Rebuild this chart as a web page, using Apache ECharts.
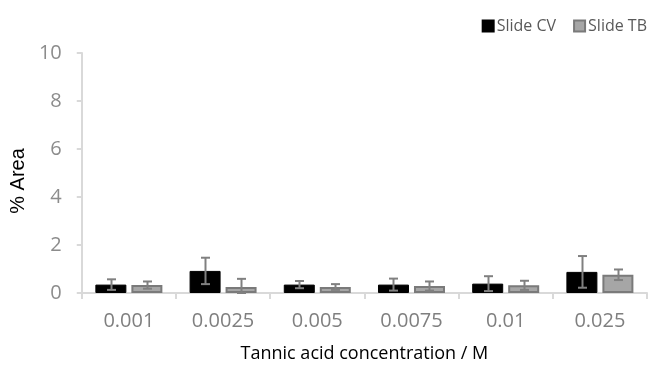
<!DOCTYPE html>
<html>
<head>
<meta charset="utf-8">
<script src="https://cdn.jsdelivr.net/npm/echarts@6/dist/echarts.min.js"></script>
<style>
  html, body { margin: 0; padding: 0; background: #fff; }
  #chart { width: 660px; height: 368px; }
</style>
</head>
<body>
<div id="chart"></div>
<script>
// Tannic acid concentrations (M)
var categories = ['0.001', '0.0025', '0.005', '0.0075', '0.01', '0.025'];
// Mean % area per slide stain
var slideCV = [0.35, 0.92, 0.35, 0.35, 0.39, 0.88];
var slideTB = [0.33, 0.25, 0.25, 0.29, 0.32, 0.76];
// Standard deviations
var slideCVErr = [0.22, 0.55, 0.15, 0.25, 0.31, 0.66];
var slideTBErr = [0.15, 0.34, 0.12, 0.19, 0.19, 0.22];
var yTicks = [0, 2, 4, 6, 8, 10];

var FONT = '"Open Sans", "Noto Sans", sans-serif';
var BAR_W = 31, BAR_GAP = 5;

function errorData(vals, errs) {
  return vals.map(function (v, i) { return [i, Math.max(0, v - errs[i]), v + errs[i]]; });
}

function errorSeries(name, vals, errs, offset) {
  return {
    type: 'custom',
    name: name + ' error',
    silent: true,
    z: 5,
    data: errorData(vals, errs),
    renderItem: function (params, api) {
      var lo = api.coord([api.value(0), api.value(1)]);
      var hi = api.coord([api.value(0), api.value(2)]);
      var x = Math.round(lo[0] + offset) + 0.5;
      var hw = 4.5;
      var style = { stroke: '#808080', lineWidth: 2, fill: null };
      return {
        type: 'group',
        children: [
          { type: 'line', shape: { x1: x, y1: hi[1], x2: x, y2: lo[1] }, style: style },
          { type: 'line', shape: { x1: x - hw, y1: hi[1], x2: x + hw, y2: hi[1] }, style: style },
          { type: 'line', shape: { x1: x - hw, y1: lo[1], x2: x + hw, y2: lo[1] }, style: style }
        ]
      };
    }
  };
}

var chart = echarts.init(document.getElementById('chart'), null, { renderer: 'canvas' });
var offset = (BAR_W + BAR_GAP) / 2;

chart.setOption({
  animation: false,
  textStyle: { fontFamily: FONT },
  legend: {
    data: ['Slide CV', 'Slide TB'],
    right: 8,
    top: 13,
    itemWidth: 11,
    itemHeight: 11,
    itemGap: 17,
    icon: 'rect',
    textStyle: { fontFamily: FONT, fontSize: 16, color: '#595959', padding: [0, 0, 0, -2] }
  },
  grid: { left: 81, right: 13, top: 53, bottom: 71, containLabel: false },
  xAxis: {
    type: 'category',
    data: categories,
    name: 'Tannic acid concentration / M',
    nameLocation: 'middle',
    nameGap: 52,
    nameTextStyle: { fontFamily: FONT, fontSize: 18, color: '#000' },
    axisLine: { lineStyle: { color: '#d9d9d9', width: 2 } },
    axisTick: { show: true, length: 6, lineStyle: { color: '#d9d9d9', width: 2 } },
    axisLabel: { fontFamily: FONT, fontSize: 20, color: '#7f7f7f', margin: 18 }
  },
  yAxis: {
    type: 'value',
    min: 0,
    max: 10,
    interval: 2,
    name: '% Area',
    nameLocation: 'middle',
    nameGap: 51,
    nameTextStyle: {
      fontFamily: '"Liberation Sans", Arial, sans-serif', fontSize: 20, color: '#000',
      padding: [0, 16, 0, 0]
    },
    axisLine: { show: true, lineStyle: { color: '#d9d9d9', width: 2 } },
    axisTick: { show: true, length: 5, lineStyle: { color: '#d9d9d9', width: 2 } },
    splitLine: { show: false },
    axisLabel: {
      fontFamily: FONT, fontSize: 20, color: '#8c8c8c', margin: 20,
      formatter: function (v) { return yTicks.indexOf(v) >= 0 ? String(v) : ''; }
    }
  },
  series: [
    {
      name: 'Slide CV',
      type: 'bar',
      data: slideCV,
      barWidth: BAR_W,
      barGap: (BAR_GAP / BAR_W * 100) + '%',
      itemStyle: { color: '#000000', borderColor: '#000000', borderWidth: 1 }
    },
    {
      name: 'Slide TB',
      type: 'bar',
      data: slideTB,
      barWidth: BAR_W,
      itemStyle: { color: '#a6a6a6', borderColor: '#7a7a7a', borderWidth: 2 }
    },
    errorSeries('Slide CV', slideCV, slideCVErr, -offset),
    errorSeries('Slide TB', slideTB, slideTBErr, offset)
  ]
});
</script>
</body>
</html>
